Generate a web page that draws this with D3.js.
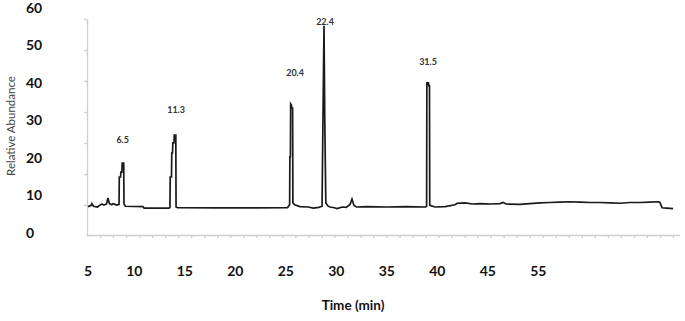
<!DOCTYPE html>
<html>
<head>
<meta charset="utf-8">
<script src="https://cdn.jsdelivr.net/npm/d3@7"></script>
<style>
    body { margin: 0; background: #fff; }
    svg { display: block; font-family: Lato, "Open Sans", sans-serif; }
    .y-lbl, .x-lbl { font-size: 14px; font-weight: bold; fill: #111; }
    .peak-lbl { font-size: 9px; font-weight: bold; fill: #333; }
    .inner-axis path, .inner-axis line { stroke: #cfcfcf; stroke-width: 1.3; }
</style>
</head>
<body>
<div id="chart"></div>
<script>
// outer tick labels
const yTicks = [0, 10, 20, 30, 40, 50, 60];
const xTickLabels = ["5", "10", "15", "20", "25", "30", "35", "40", "45", "55"];

// peak annotations (retention time label, anchor in trace units)
const peakLabels = ["6.5", "11.3", "20.4", "22.4", "31.5"];
const peakLabelTime = [2.74, 6.84, 15.98, 18.28, 26.19];
const peakLabelAbund = [24.7, 32.7, 42.5, 56.1, 45.5];

// chromatogram trace
const traceTime = [0.08, 0.3, 0.38, 0.5, 0.8, 1.0, 1.15, 1.3, 1.5, 1.61, 1.72, 1.9, 2.0, 2.15, 2.3, 2.46,
    2.48, 2.58, 2.6, 2.68, 2.7, 2.82, 2.84, 2.95, 4.3, 4.38, 6.3, 6.37,
    6.39, 6.49, 6.51, 6.57, 6.59, 6.68, 6.7, 6.82, 6.84, 6.95, 10.0, 15.4,
    15.51, 15.56, 15.58, 15.62, 15.64, 15.7, 15.72, 15.79, 15.81, 15.95, 16.36, 17.0, 17.36, 17.8,
    18.05, 18.12, 18.2, 18.26, 18.34, 18.5, 18.66, 19.0, 19.2, 19.6, 19.9, 20.2, 20.35, 20.5, 20.7,
    21.5, 23.0, 24.5, 26.0, 26.08, 26.1, 26.22, 26.25, 26.3, 26.32, 26.45, 26.73, 27.5,
    28.26, 28.42, 29.03, 29.6, 30.18, 31.0, 31.72, 31.95, 32.18, 33.26, 34.0, 34.79, 35.5,
    36.33, 37.0, 37.86, 38.6, 39.4, 40.2, 40.94, 41.7, 42.47, 43.2, 43.86, 44.0, 44.16, 44.5, 45.01];
const traceAbund = [6.9, 7.2, 7.7, 7.0, 6.8, 7.3, 7.6, 7.3, 7.6, 9.2, 7.7, 7.4, 7.7, 7.5, 7.3, 7.5,
    14.8, 14.8, 16.1, 16.1, 18.5, 18.5, 7.6, 7.0, 6.9, 6.5, 6.5, 6.7,
    14.8, 14.8, 21.2, 21.2, 23.9, 23.9, 26.0, 26.0, 6.8, 6.6, 6.55, 6.6,
    7.2, 7.4, 20.2, 20.2, 34.3, 34.0, 33.2, 33.2, 7.9, 7.4, 6.9, 6.8, 6.5, 6.7,
    7.0, 30.0, 55.1, 30.0, 7.9, 7.1, 6.8, 6.6, 6.4, 6.8, 6.7, 7.5, 8.9, 7.2, 6.8,
    6.9, 6.8, 6.9, 6.8, 7.0, 39.9, 39.9, 39.1, 39.1, 7.3, 7.1, 6.8, 6.9,
    7.4, 7.8, 7.9, 7.6, 7.7, 7.6, 7.7, 8.0, 7.6, 7.5, 7.7, 7.9, 8.0,
    8.1, 8.2, 8.1, 8.0, 8.0, 7.9, 7.8, 8.0, 8.0, 8.1, 8.2, 8.0, 6.6, 6.5, 6.35];

let width = 685, height = 321;

let svg = d3.select("#chart").append("svg")
    .attr("width", width)
    .attr("height", height);

// scales: trace time on the inner frame, abundance on the outer labels
let x = d3.scaleLinear().domain([0, 45.5]).range([87, 679.5]);
let y = d3.scaleLinear().domain([0, 60]).range([232.5, 7.5]);
let yFrame = d3.scaleLinear().domain([0, 7]).range([236, 19]);
let xLabels = d3.scalePoint().domain(xTickLabels).range([92, 546.5]);

// inner light grey frame axes
svg.append("g")
    .attr("class", "inner-axis")
    .attr("transform", "translate(0, 235)")
    .call(d3.axisBottom(x).tickValues(d3.range(1, 46)).tickSize(3).tickSizeOuter(0).tickFormat(""));
svg.append("g")
    .attr("class", "inner-axis")
    .attr("transform", "translate(87, 0)")
    .call(d3.axisLeft(yFrame).tickValues(d3.range(1, 8)).tickSize(3).tickSizeOuter(0).tickFormat(""));

// y labels
svg.selectAll(".y-lbl")
    .data(yTicks)
    .enter().append("text")
    .attr("class", "y-lbl")
    .attr("x", 26)
    .attr("y", d => y(d))
    .attr("dy", "0.36em")
    .text(d => d);

// x labels
svg.selectAll(".x-lbl")
    .data(xTickLabels)
    .enter().append("text")
    .attr("class", "x-lbl")
    .attr("x", d => xLabels(d))
    .attr("y", 276)
    .style("text-anchor", "end")
    .text(d => d);

// axis titles
svg.append("text")
    .attr("transform", "translate(14.5, 126) rotate(-90)")
    .style("text-anchor", "middle")
    .style("font-size", "11.5px")
    .style("fill", "#444")
    .text("Relative Abundance");

svg.append("text")
    .attr("x", 353)
    .attr("y", 310)
    .style("text-anchor", "middle")
    .style("font-size", "13.5px")
    .style("font-weight", "bold")
    .style("fill", "#111")
    .text("Time (min)");

// trace
let line = d3.line()
    .x((d, i) => x(traceTime[i]))
    .y(d => y(d));

svg.append("path")
    .datum(traceAbund)
    .attr("d", line)
    .attr("fill", "none")
    .attr("stroke", "#1a1a1a")
    .attr("stroke-width", 1.7)
    .attr("stroke-linejoin", "miter");

// peak labels
svg.selectAll(".peak-lbl")
    .data(peakLabels)
    .enter().append("text")
    .attr("class", "peak-lbl")
    .attr("x", (d, i) => x(peakLabelTime[i]))
    .attr("y", (d, i) => y(peakLabelAbund[i]))
    .attr("dy", "0.35em")
    .style("text-anchor", "middle")
    .text(d => d);
</script>
</body>
</html>
